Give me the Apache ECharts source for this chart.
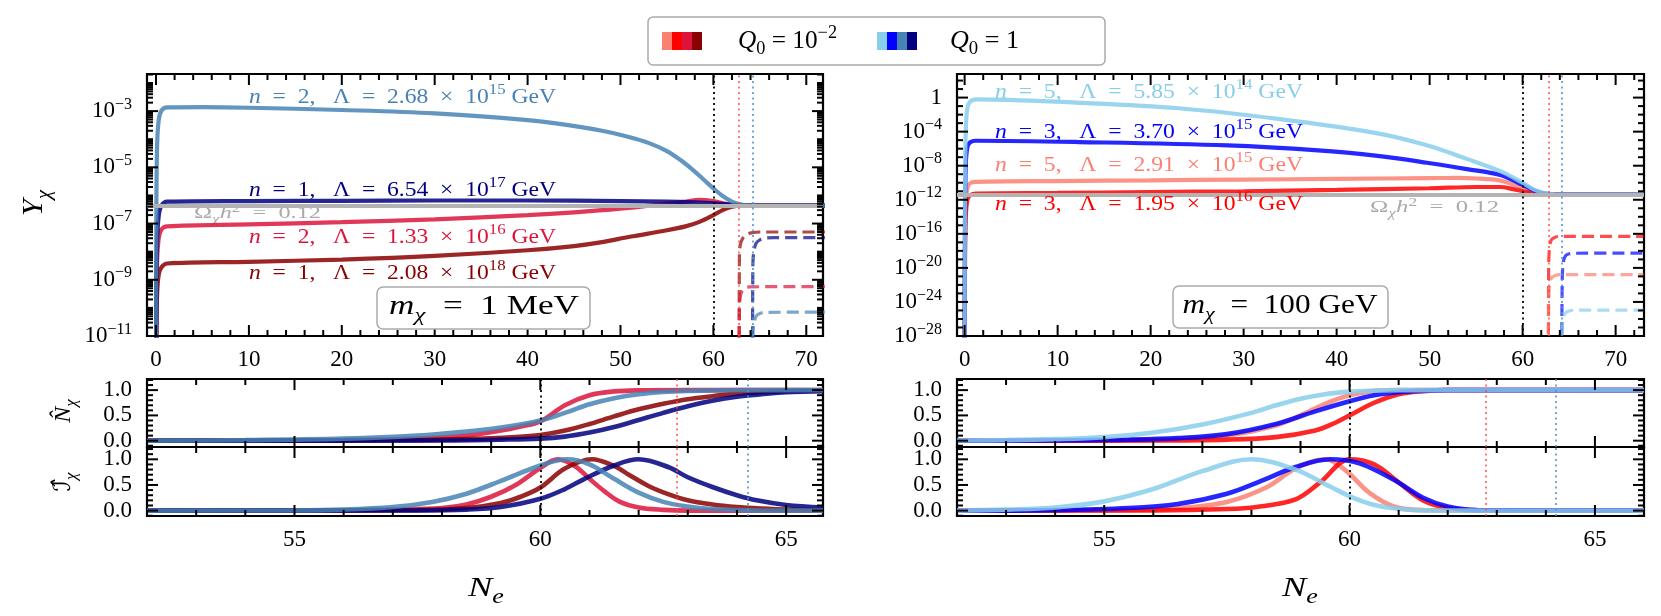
<!DOCTYPE html>
<html><head><meta charset="utf-8">
<script src="https://cdn.jsdelivr.net/npm/echarts@6/dist/echarts.min.js"></script>
<style>html,body{margin:0;padding:0;background:#fff}#c{width:1661px;height:616px}</style>
</head><body><div id="c"></div>
<script>
// ================= DATA =================
// Top-left panel (m_chi = 1 MeV): N_e and log10(Y_chi)
const TL_crimson_N   = [0, 0.04, 0.12, 0.3, 0.6, 1.2, 10, 20, 30, 40, 45, 50, 54, 57, 58.5, 60, 61, 62, 63, 64, 72];
const TL_crimson_logY= [-13, -10, -8.3, -7.5, -7.2, -7.1, -7.03, -6.95, -6.85, -6.7, -6.6, -6.47, -6.33, -6.22, -6.16, -6.2, -6.28, -6.34, -6.36, -6.36, -6.36];
const TL_darkred_N   = [0, 0.04, 0.12, 0.3, 0.6, 1.2, 10, 20, 30, 40, 45, 48, 51, 55, 57, 58.5, 60, 61, 62, 63, 64, 72];
const TL_darkred_logY= [-13, -11, -9.5, -8.8, -8.55, -8.42, -8.36, -8.28, -8.15, -7.95, -7.8, -7.66, -7.47, -7.24, -7.1, -6.94, -6.7, -6.52, -6.4, -6.36, -6.36, -6.36];
const TL_navy_N      = [0, 0.04, 0.12, 0.3, 0.6, 1.2, 10, 20, 30, 40, 50, 55, 58, 60, 62, 63, 64, 72];
const TL_navy_logY   = [-13, -9.5, -7.6, -6.7, -6.35, -6.22, -6.2, -6.19, -6.18, -6.18, -6.2, -6.22, -6.25, -6.28, -6.33, -6.35, -6.36, -6.36];
const TL_steel_N     = [0, 0.04, 0.12, 0.3, 0.6, 1.2, 5, 10, 20, 30, 40, 44, 48, 51, 53, 55, 56.5, 58, 59, 60, 61, 62, 63, 64, 72];
const TL_steel_logY  = [-13, -6.5, -4.2, -3.3, -2.98, -2.87, -2.86, -2.88, -2.96, -3.08, -3.32, -3.48, -3.7, -3.93, -4.13, -4.42, -4.75, -5.15, -5.45, -5.75, -6.02, -6.22, -6.32, -6.36, -6.36];
// dashed (Q0) curves, top-left
const TLd_darkred_N  = [62.77, 62.8, 62.9, 63.2, 63.6, 64.2, 65, 72];
const TLd_darkred_logY=[-13, -8.2, -7.75, -7.5, -7.38, -7.32, -7.3, -7.3];
const TLd_navy_N     = [64.21, 64.25, 64.35, 64.6, 65, 65.6, 66.5, 72];
const TLd_navy_logY  = [-13, -8.5, -8.0, -7.7, -7.58, -7.52, -7.5, -7.5];
const TLd_crimson_N  = [62.77, 62.8, 62.9, 63.1, 63.5, 64, 72];
const TLd_crimson_logY=[-13, -10, -9.6, -9.4, -9.28, -9.25, -9.24];
const TLd_steel_N    = [64.21, 64.25, 64.35, 64.6, 65, 65.6, 72];
const TLd_steel_logY = [-13, -11, -10.6, -10.3, -10.2, -10.16, -10.15];
const TL_relic_logY = -6.36;

// Top-right panel (m_chi = 100 GeV)
const TR_salmon_N    = [0, 0.04, 0.12, 0.3, 0.6, 1.2, 10, 20, 30, 40, 50, 53, 55, 57.6, 59, 60, 61.2, 62.5, 64, 73];
const TR_salmon_logY = [-32, -18, -12.5, -10.6, -10.05, -9.9, -9.8, -9.72, -9.63, -9.55, -9.46, -9.44, -9.5, -9.75, -10.2, -10.6, -11.15, -11.33, -11.36, -11.36];
const TR_red_N       = [0, 0.04, 0.12, 0.3, 0.6, 1.2, 10, 20, 30, 40, 50, 55, 57.6, 59, 60, 61.2, 62.5, 64, 73];
const TR_red_logY    = [-32, -19, -14, -12, -11.45, -11.27, -11.2, -11.1, -11.0, -10.85, -10.65, -10.5, -10.5, -10.75, -11.0, -11.25, -11.36, -11.36, -11.36];
const TR_blue_N      = [0, 0.04, 0.12, 0.3, 0.6, 1.2, 12.3, 28.3, 38, 44.4, 49.7, 54, 57.6, 60, 61.2, 62.6, 64, 73];
const TR_blue_logY   = [-32, -15, -8, -5.8, -5.25, -5.07, -5.22, -5.62, -6.2, -6.85, -7.65, -8.4, -9.1, -10.25, -10.9, -11.3, -11.36, -11.36];
const TR_sky_N       = [0, 0.04, 0.12, 0.3, 0.6, 1.2, 12, 23, 33.7, 44.4, 49.7, 54, 57.7, 60, 61.2, 62.6, 64, 73];
const TR_sky_logY    = [-32, -12, -4, -1.2, -0.45, -0.2, -0.6, -1.25, -2.5, -4.2, -5.6, -7.2, -8.7, -10.0, -10.8, -11.27, -11.36, -11.36];
const TRd_red_N      = [62.77, 62.8, 62.9, 63.1, 63.5, 64, 73];
const TRd_red_logY   = [-32, -20, -17.5, -16.7, -16.4, -16.3, -16.3];
const TRd_salmon_N   = [62.77, 62.8, 62.9, 63.1, 63.5, 64, 73];
const TRd_salmon_logY= [-32, -24, -22, -21.2, -20.9, -20.8, -20.8];
const TRd_blue_N     = [64.21, 64.25, 64.35, 64.6, 65, 65.6, 73];
const TRd_blue_logY  = [-32, -22, -19.5, -18.6, -18.35, -18.28, -18.27];
const TRd_sky_N      = [64.21, 64.25, 64.35, 64.6, 65, 65.6, 73];
const TRd_sky_logY   = [-32, -27.5, -26, -25.3, -25.05, -24.97, -24.95];
const TR_relic_logY = -11.36;

// Vertical reference lines (N_e)
const N_end = 60, N_Q_red = 62.77, N_Q_blue = 64.21;

// Bottom-left: N-hat and I-hat (1 MeV)
const NL_crimson_N = [52, 56, 57.5, 58.5, 59.2, 59.6, 60, 60.5, 61, 61.5, 62, 63, 65.75];
const NL_crimson_v = [0, 0.01, 0.04, 0.1, 0.2, 0.28, 0.38, 0.7, 0.9, 0.975, 0.995, 1, 1];
const NL_darkred_N = [52, 57, 58.5, 59.5, 60, 60.5, 61, 61.5, 62, 62.5, 63, 63.5, 64, 64.5, 65, 65.75];
const NL_darkred_v = [0, 0.01, 0.03, 0.07, 0.11, 0.2, 0.33, 0.48, 0.62, 0.73, 0.82, 0.88, 0.93, 0.96, 0.98, 0.99];
const NL_navy_N    = [52, 58, 59.2, 60, 60.5, 61, 61.5, 62, 62.5, 63, 63.5, 64, 64.5, 65, 65.75];
const NL_navy_v    = [0, 0.005, 0.02, 0.04, 0.08, 0.16, 0.27, 0.41, 0.55, 0.68, 0.79, 0.87, 0.92, 0.96, 0.98];
const NL_steel_N   = [52, 54, 56, 57.5, 58.5, 59.2, 60, 60.5, 61, 61.5, 62, 62.5, 63, 64, 65.75];
const NL_steel_v   = [0, 0.01, 0.04, 0.1, 0.18, 0.26, 0.4, 0.55, 0.72, 0.84, 0.92, 0.965, 0.985, 1, 1];
const IL_crimson_N = [52, 56, 57, 58, 58.5, 59, 59.5, 60, 60.35, 60.7, 61, 61.3, 61.6, 62, 62.5, 63, 65.75];
const IL_crimson_v = [0, 0.005, 0.02, 0.05, 0.12, 0.27, 0.5, 0.83, 1.0, 0.87, 0.62, 0.38, 0.18, 0.06, 0.015, 0, 0];
const IL_darkred_N = [52, 57.5, 58.5, 59.2, 59.6, 60, 60.5, 61.05, 61.5, 61.8, 62.2, 62.6, 63, 63.5, 64, 64.5, 65, 65.75];
const IL_darkred_v = [0, 0.01, 0.05, 0.15, 0.27, 0.45, 0.82, 1.0, 0.87, 0.7, 0.48, 0.32, 0.2, 0.12, 0.07, 0.04, 0.02, 0.01];
const IL_navy_N    = [52, 57.5, 58.5, 59.2, 60, 60.5, 60.9, 61.5, 62, 62.6, 63, 63.5, 64, 64.4, 65, 65.75];
const IL_navy_v    = [0, 0.005, 0.02, 0.07, 0.23, 0.42, 0.62, 0.88, 1.0, 0.85, 0.65, 0.46, 0.3, 0.2, 0.11, 0.06];
const IL_steel_N   = [52, 55, 56, 57, 57.8, 58.5, 59.2, 60, 60.55, 61, 61.5, 62, 62.5, 63, 63.5, 64, 65, 65.75];
const IL_steel_v   = [0, 0.005, 0.02, 0.07, 0.17, 0.33, 0.58, 0.88, 1.0, 0.9, 0.62, 0.35, 0.17, 0.08, 0.03, 0.01, 0, 0];

// Bottom-right: N-hat and I-hat (100 GeV)
const NR_salmon_N = [52, 55, 56.5, 57.5, 58.5, 59, 59.5, 60, 60.5, 61, 66];
const NR_salmon_v = [0, 0.005, 0.03, 0.1, 0.3, 0.5, 0.73, 0.9, 0.98, 1, 1];
const NR_red_N    = [52, 56, 57.5, 58.5, 59.3, 59.7, 60, 60.5, 61, 61.5, 62, 66];
const NR_red_v    = [0, 0.003, 0.02, 0.07, 0.2, 0.35, 0.5, 0.75, 0.92, 0.98, 1, 1];
const NR_blue_N   = [52, 54, 55.5, 56.5, 57.5, 58.5, 59.3, 60, 60.5, 61, 61.5, 62, 66];
const NR_blue_v   = [0, 0.005, 0.02, 0.05, 0.13, 0.33, 0.58, 0.78, 0.9, 0.96, 0.99, 1, 1];
const NR_sky_N    = [52, 53, 54, 55, 56, 57, 58, 58.5, 59, 59.5, 60, 60.5, 61, 66];
const NR_sky_v    = [0.003, 0.01, 0.03, 0.07, 0.16, 0.32, 0.55, 0.7, 0.83, 0.92, 0.97, 0.99, 1, 1];
const IR_salmon_N = [52, 55, 56.5, 57.5, 58.3, 58.9, 59.5, 59.9, 60.4, 60.9, 61.5, 66];
const IR_salmon_v = [0, 0.005, 0.05, 0.17, 0.45, 0.82, 1.0, 0.8, 0.35, 0.08, 0.01, 0];
const IR_red_N    = [52, 56, 57.5, 58.1, 58.9, 59.4, 60, 60.5, 61, 61.5, 62, 62.6, 66];
const IR_red_v    = [0, 0.005, 0.03, 0.07, 0.22, 0.55, 1.0, 0.9, 0.55, 0.2, 0.05, 0.005, 0];
const IR_blue_N   = [52, 54, 55.5, 56.5, 57.5, 58.2, 58.9, 59.6, 60.2, 60.9, 61.5, 62, 62.6, 66];
const IR_blue_v   = [0, 0.01, 0.05, 0.13, 0.33, 0.58, 0.85, 1.0, 0.92, 0.6, 0.25, 0.08, 0.01, 0];
const IR_sky_N    = [52, 53, 54, 55, 56, 57, 58, 58.9, 59.6, 60.1, 60.6, 61.2, 62, 66];
const IR_sky_v    = [0, 0.02, 0.06, 0.18, 0.42, 0.77, 1.0, 0.8, 0.47, 0.24, 0.09, 0.02, 0, 0];

// Tick labels
const topXTicks = [0, 10, 20, 30, 40, 50, 60, 70];
const botXTicks = [55, 60, 65];
const TL_yLabels = [-11, -9, -7, -5, -3];
const TR_yLabels = [-28, -24, -20, -16, -12, -8, -4, 0];
const botYTicks = [0, 0.5, 1.0];

// ================= STYLE / LAYOUT =================
const F = "'Liberation Serif','DejaVu Serif','DejaVu Sans',serif";
const C = {salmon:'#FA8072', red:'#FF0000', crimson:'#DC143C', darkred:'#8B0000',
           sky:'#87CEEB', blue:'#0000FF', steel:'#4682B4', navy:'#000080'};
const grids = [
  {left:147, top:74, width:676, height:262},   // 0 TL
  {left:957, top:74, width:687, height:262},   // 1 TR
  {left:147, top:379, width:676, height:68},   // 2 NL
  {left:147, top:447, width:676, height:69},   // 3 IL
  {left:957, top:379, width:687, height:68},   // 4 NR
  {left:957, top:447, width:687, height:69}    // 5 IR
].map(g => Object.assign({show:true, borderColor:'#000', borderWidth:2.2, backgroundColor:'transparent'}, g));

const TFS = 23;
function tickRich(){ return {
  b: {fontFamily:F, fontSize:TFS, color:'#000', lineHeight:29},
  s: {fontFamily:F, fontSize:16, color:'#000', verticalAlign:'top', lineHeight:16}
}; }
function range(a, b, step){ const r=[]; for(let v=a; v<=b+1e-9; v+=step) r.push(Math.round(v*1000)/1000); return r; }
const xAxes = [], yAxes = [];
function addX(gi, min, max, labels){
  xAxes.push({gridIndex:gi, type:'value', min, max, position:'bottom', splitLine:{show:false},
    axisLine:{show:false, onZero:false}, axisTick:{show:false},
    axisLabel: labels ? {show:true, customValues:labels.slice(), margin:12, fontSize:TFS, fontFamily:F, color:'#000', formatter: v => String(v)} : {show:false}});
  return xAxes.length - 1;
}
function addY(gi, min, max, labels, fmt){
  yAxes.push({gridIndex:gi, type:'value', min, max, position:'left', splitLine:{show:false},
    axisLine:{show:false, onZero:false}, axisTick:{show:false},
    axisLabel:{show:true, customValues:labels.slice(), margin:15, fontSize:TFS, fontFamily:F, color:'#000', formatter:fmt, rich:tickRich()}});
  return yAxes.length - 1;
}
const powFmt = v => v === 0 ? '{b|1}' : '{b|10}{s|\u2212' + Math.abs(v) + '}';
const decFmt = v => '{b|' + v.toFixed(1) + '}';
function logMinors(lo, hi, majors, subs){
  const out = [];
  for (let d = Math.floor(lo); d <= Math.ceil(hi); d++){
    if (!majors.includes(d) && d >= lo && d <= hi) out.push(d);
    if (subs) for (let k = 2; k <= 9; k++){ const v = d + Math.log10(k); if (v > lo && v < hi) out.push(v); }
  }
  return out.sort((a, b) => a - b);
}
const notIn = (arr, ex) => arr.filter(v => !ex.includes(v));
const botYMinor = notIn(range(-0.1, 1.2, 0.1), botYTicks);

const XR = {TL:[-0.97, 71.8], TR:[-0.82, 73.05], BL:[52, 65.75], BR:[52, 66]};
const YR = {TL:[-11, -1.68], TR:[-28, 2.77], N:[-0.125, 1.22], I:[-0.105, 1.24]};
const TLx = addX(0, XR.TL[0], XR.TL[1], topXTicks);
const TRx = addX(1, XR.TR[0], XR.TR[1], topXTicks);
const NLx = addX(2, XR.BL[0], XR.BL[1], null);
const ILx = addX(3, XR.BL[0], XR.BL[1], botXTicks);
const NRx = addX(4, XR.BR[0], XR.BR[1], null);
const IRx = addX(5, XR.BR[0], XR.BR[1], botXTicks);
const TLy = addY(0, YR.TL[0], YR.TL[1], TL_yLabels, powFmt);
const TRy = addY(1, YR.TR[0], YR.TR[1], TR_yLabels, powFmt);
const NLy = addY(2, YR.N[0], YR.N[1], botYTicks, decFmt);
const ILy = addY(3, YR.I[0], YR.I[1], botYTicks, decFmt);
const NRy = addY(4, YR.N[0], YR.N[1], botYTicks, decFmt);
const IRy = addY(5, YR.I[0], YR.I[1], botYTicks, decFmt);

// ================= SERIES =================
const series = [];
function zip(a, b){ return a.map((x, i) => [x, b[i]]); }
function solid(xi, yi, N, V, color, w){
  series.push({type:'line', xAxisIndex:xi, yAxisIndex:yi, data:zip(N, V), symbol:'none', smooth:0.35,
    clip:true, silent:true, z:3, lineStyle:{color, width:w || 4.2, opacity:0.85}});
}
function dashed(xi, yi, N, V, color){
  series.push({type:'line', xAxisIndex:xi, yAxisIndex:yi, data:zip(N, V), symbol:'none', smooth:0.35,
    clip:true, silent:true, z:3, lineStyle:{color, width:3.2, opacity:0.7, type:[12, 6]}});
}
function refs(xi, yi, relic){
  const dot = (x, color, w) => ({xAxis:x, lineStyle:{color, width:w, type:[2, 3.5], opacity:1}});
  const data = [dot(N_end, '#000', 1.8), dot(N_Q_red, 'rgba(255,70,70,0.8)', 1.8), dot(N_Q_blue, 'rgba(80,150,210,0.9)', 1.8)];
  if (relic !== undefined) data.unshift({yAxis:relic, lineStyle:{color:'#b3b3b3', width:4.2, type:'solid'}});
  series.push({type:'line', xAxisIndex:xi, yAxisIndex:yi, data:[], z:1, silent:true,
    markLine:{silent:true, symbol:'none', animation:false, label:{show:false}, data}});
}
// inward tick marks on all four sides, positioned through the axes' scales (api.coord)
function tickSeries(xi, yi, xr, yr, xVals, yVals, len){
  const st = {stroke:'#000', lineWidth:2};
  series.push({type:'custom', xAxisIndex:xi, yAxisIndex:yi, z:6, silent:true, clip:false,
    data: xVals.map(v => [v, yr[0]]),
    renderItem: function(p, api){
      const v = api.value(0);
      const b = api.coord([v, yr[0]]), t = api.coord([v, yr[1]]);
      return {type:'group', children:[
        {type:'line', shape:{x1:b[0], y1:b[1], x2:b[0], y2:b[1] - len}, style:st},
        {type:'line', shape:{x1:t[0], y1:t[1], x2:t[0], y2:t[1] + len}, style:st}]};
    }});
  series.push({type:'custom', xAxisIndex:xi, yAxisIndex:yi, z:6, silent:true, clip:false,
    data: yVals.map(v => [xr[0], v]),
    renderItem: function(p, api){
      const v = api.value(1);
      const l = api.coord([xr[0], v]), r = api.coord([xr[1], v]);
      return {type:'group', children:[
        {type:'line', shape:{x1:l[0], y1:l[1], x2:l[0] + len, y2:l[1]}, style:st},
        {type:'line', shape:{x1:r[0], y1:r[1], x2:r[0] - len, y2:r[1]}, style:st}]};
    }});
}
function ticks(xi, yi, xr, yr, xMaj, xMin, yMaj, yMin){
  tickSeries(xi, yi, xr, yr, xMaj, yMaj, 11);
  tickSeries(xi, yi, xr, yr, xMin, yMin, 6);
}

refs(TLx, TLy, TL_relic_logY);
solid(TLx, TLy, TL_crimson_N, TL_crimson_logY, C.crimson);
solid(TLx, TLy, TL_darkred_N, TL_darkred_logY, C.darkred);
solid(TLx, TLy, TL_navy_N, TL_navy_logY, C.navy);
solid(TLx, TLy, TL_steel_N, TL_steel_logY, C.steel);
dashed(TLx, TLy, TLd_darkred_N, TLd_darkred_logY, C.darkred);
dashed(TLx, TLy, TLd_crimson_N, TLd_crimson_logY, C.crimson);
dashed(TLx, TLy, TLd_navy_N, TLd_navy_logY, C.navy);
dashed(TLx, TLy, TLd_steel_N, TLd_steel_logY, C.steel);
ticks(TLx, TLy, XR.TL, YR.TL, topXTicks, notIn(range(0, 70, 2), topXTicks), TL_yLabels, logMinors(YR.TL[0], YR.TL[1], TL_yLabels, true));
refs(TRx, TRy, TR_relic_logY);
solid(TRx, TRy, TR_salmon_N, TR_salmon_logY, C.salmon);
solid(TRx, TRy, TR_red_N, TR_red_logY, C.red);
solid(TRx, TRy, TR_blue_N, TR_blue_logY, C.blue);
solid(TRx, TRy, TR_sky_N, TR_sky_logY, C.sky);
dashed(TRx, TRy, TRd_red_N, TRd_red_logY, C.red);
dashed(TRx, TRy, TRd_salmon_N, TRd_salmon_logY, C.salmon);
dashed(TRx, TRy, TRd_blue_N, TRd_blue_logY, C.blue);
dashed(TRx, TRy, TRd_sky_N, TRd_sky_logY, C.sky);
ticks(TRx, TRy, XR.TR, YR.TR, topXTicks, notIn(range(0, 72, 2), topXTicks), TR_yLabels, logMinors(YR.TR[0], YR.TR[1], TR_yLabels, false));
refs(NLx, NLy); refs(ILx, ILy);
solid(NLx, NLy, NL_crimson_N, NL_crimson_v, C.crimson, 4.6);
solid(NLx, NLy, NL_darkred_N, NL_darkred_v, C.darkred, 4.6);
solid(NLx, NLy, NL_navy_N, NL_navy_v, C.navy, 4.6);
solid(NLx, NLy, NL_steel_N, NL_steel_v, C.steel, 4.6);
solid(ILx, ILy, IL_crimson_N, IL_crimson_v, C.crimson, 4.6);
solid(ILx, ILy, IL_darkred_N, IL_darkred_v, C.darkred, 4.6);
solid(ILx, ILy, IL_navy_N, IL_navy_v, C.navy, 4.6);
solid(ILx, ILy, IL_steel_N, IL_steel_v, C.steel, 4.6);
ticks(NLx, NLy, XR.BL, YR.N, botXTicks, notIn(range(52, 65, 1), botXTicks), botYTicks, botYMinor);
ticks(ILx, ILy, XR.BL, YR.I, botXTicks, notIn(range(52, 65, 1), botXTicks), botYTicks, botYMinor);
refs(NRx, NRy); refs(IRx, IRy);
solid(NRx, NRy, NR_salmon_N, NR_salmon_v, C.salmon, 4.6);
solid(NRx, NRy, NR_red_N, NR_red_v, C.red, 4.6);
solid(NRx, NRy, NR_blue_N, NR_blue_v, C.blue, 4.6);
solid(NRx, NRy, NR_sky_N, NR_sky_v, C.sky, 4.6);
solid(IRx, IRy, IR_salmon_N, IR_salmon_v, C.salmon, 4.6);
solid(IRx, IRy, IR_red_N, IR_red_v, C.red, 4.6);
solid(IRx, IRy, IR_blue_N, IR_blue_v, C.blue, 4.6);
solid(IRx, IRy, IR_sky_N, IR_sky_v, C.sky, 4.6);
ticks(NRx, NRy, XR.BR, YR.N, botXTicks, notIn(range(52, 66, 1), botXTicks), botYTicks, botYMinor);
ticks(IRx, IRy, XR.BR, YR.I, botXTicks, notIn(range(52, 66, 1), botXTicks), botYTicks, botYMinor);

// ================= TEXT (graphic) =================
function mrich(c, S){
  const LH = Math.round(S * 1.35), s = Math.round(S * 0.7);
  return {
    i:   {fontFamily:F, fontStyle:'italic', fontSize:S, fill:c, color:c, lineHeight:LH},
    r:   {fontFamily:F, fontSize:S, fill:c, color:c, lineHeight:LH},
    sup: {fontFamily:F, fontSize:s, fill:c, color:c, verticalAlign:'top', lineHeight:s},
    sub: {fontFamily:F, fontSize:s, fill:c, color:c, verticalAlign:'bottom', lineHeight:s},
    isub:{fontFamily:F, fontStyle:'italic', fontSize:s, fill:c, color:c, verticalAlign:'bottom', lineHeight:s}
  };
}
function textStyle(text, color, S, align){
  return {text, rich:mrich(color, S), fill:color, fontFamily:F, fontSize:S,
    align:align || 'left', verticalAlign:'middle', textAlign:align || 'left', textVerticalAlign:'middle'};
}
function stretch(style, targetW, fallback){
  try {
    const t = new echarts.graphic.Text({style});
    const w = t.getBoundingRect().width;
    if (w > 0 && targetW) return targetW / w;
  } catch (e) {}
  return fallback || 1.25;
}
function gtext(x, y, text, color, S, opt){
  opt = opt || {};
  const style = textStyle(text, color, S, opt.align);
  const sx = opt.rot ? 1 : stretch(style, opt.w, opt.sx);
  return {type:'text', x, y, z: opt.z !== undefined ? opt.z : 20, rotation: opt.rot || 0, scaleX:sx, silent:true, style};
}
const EN = '\u2002';
const lam = (n, a, e) => '{i|n}{r|' + EN + '=' + EN + n + ', ' + EN + '\u039B' + EN + '=' + EN + a + EN + '\u00D7' + EN + '10}{sup|' + e + '}{r| GeV}';
const omega = '{r|\u03A9}{isub|\u03C7}{i|h}{sup|2}{r|' + EN + '=' + EN + '0.12}';
const patch = (x, color) => ({type:'rect', z:21, shape:{x, y:32, width:10, height:18}, style:{fill:color}});
const elements = [
  {type:'rect', z:20, shape:{x:648, y:17, width:457, height:48, r:5}, style:{fill:'#fff', stroke:'#aaaaaa', lineWidth:1.5}},
  patch(662, C.salmon), patch(672, C.red), patch(682, C.crimson), patch(692, C.darkred),
  gtext(738, 41, '{i|Q}{sub|0}{r| = 10}{sup|\u22122}', '#000', 25, {z:22, w:99}),
  patch(877, C.sky), patch(887, C.blue), patch(897, C.steel), patch(907, C.navy),
  gtext(950, 41, '{i|Q}{sub|0}{r| = 1}', '#000', 25, {z:22, w:69}),
  gtext(249, 97, lam(2, '2.68', '15'), C.steel, 21, {w:307}),
  gtext(249, 190, lam(1, '6.54', '17'), C.navy, 21, {w:307}),
  gtext(194, 214, omega, '#aaaaaa', 17, {z:0, w:127}),
  gtext(249, 237, lam(2, '1.33', '16'), C.crimson, 21, {w:307}),
  gtext(249, 273, lam(1, '2.08', '18'), C.darkred, 21, {w:307}),
  {type:'rect', z:20, shape:{x:377, y:287, width:213, height:42, r:6}, style:{fill:'#fff', stroke:'#aaaaaa', lineWidth:1.5}},
  gtext(484, 307, '{i|m}{isub|\u03C7}{r|' + EN + '=' + EN + '1 MeV}', '#000', 27, {align:'center', z:21, w:190}),
  gtext(995, 92, lam(5, '5.85', '14'), C.sky, 21, {w:308}),
  gtext(995, 132, lam(3, '3.70', '15'), C.blue, 21, {w:308}),
  gtext(995, 165, lam(5, '2.91', '15'), C.salmon, 21, {w:308}),
  gtext(995, 204, lam(3, '1.95', '16'), C.red, 21, {w:308}),
  gtext(1370, 208, omega, '#aaaaaa', 17, {z:0, w:129}),
  {type:'rect', z:20, shape:{x:1173, y:286, width:215, height:42, r:6}, style:{fill:'#fff', stroke:'#aaaaaa', lineWidth:1.5}},
  gtext(1280, 306, '{i|m}{isub|\u03C7}{r|' + EN + '=' + EN + '100 GeV}', '#000', 27, {align:'center', z:21, w:195}),
  gtext(34, 203, '{i|Y}{isub|\u03C7}', '#000', 30, {align:'center', rot:Math.PI/2}),
  gtext(64, 411, '{i|N\u0302}{isub|\u03C7}', '#000', 24, {align:'center', rot:Math.PI/2}),
  gtext(64, 482, '{i|\u2110\u0302}{isub|\u03C7}', '#000', 24, {align:'center', rot:Math.PI/2}),
  gtext(486, 589, '{i|N}{isub|e}', '#000', 28, {align:'center', sx:1.3}),
  gtext(1300, 589, '{i|N}{isub|e}', '#000', 28, {align:'center', sx:1.3})
];

const chart = echarts.init(document.getElementById('c'), null, {renderer:'canvas'});
chart.setOption({
  animation:false,
  backgroundColor:'#fff',
  grid:grids, xAxis:xAxes, yAxis:yAxes, series,
  graphic:{elements}
});
</script></body></html>
